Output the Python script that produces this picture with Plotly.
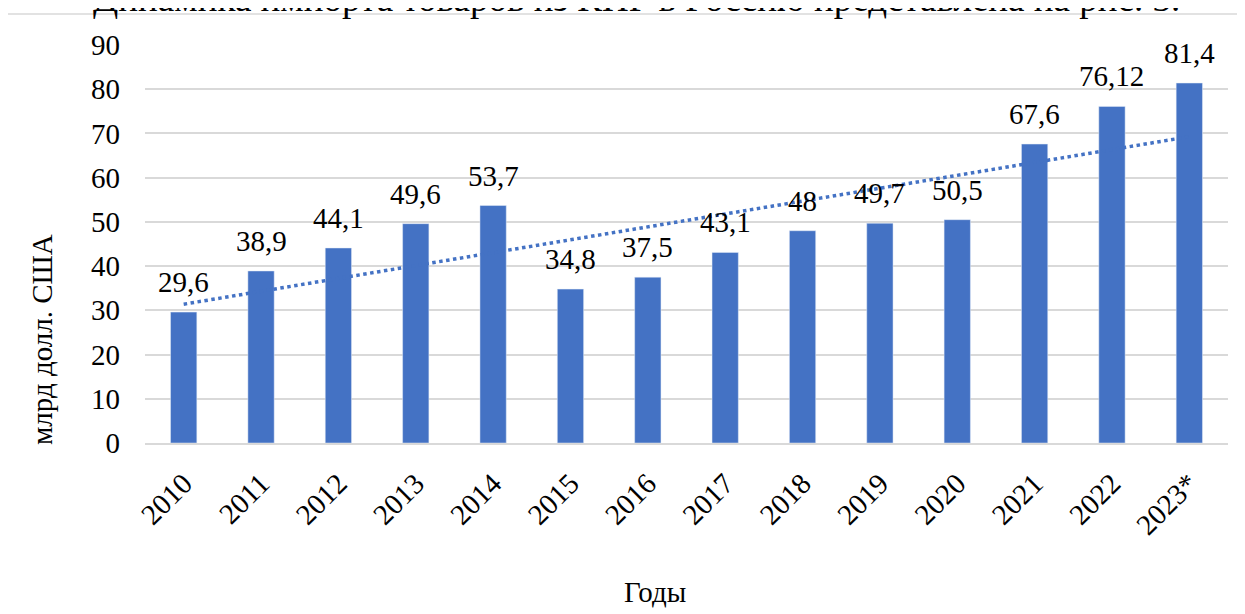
import plotly.graph_objects as go
import numpy as np

# --- Данные ---
years = ["2010", "2011", "2012", "2013", "2014", "2015", "2016",
         "2017", "2018", "2019", "2020", "2021", "2022", "2023*"]
import_values = [29.6, 38.9, 44.1, 49.6, 53.7, 34.8, 37.5,
                 43.1, 48, 49.7, 50.5, 67.6, 76.12, 81.4]
y_ticks = [0, 10, 20, 30, 40, 50, 60, 70, 80, 90]

caption = "Динамика импорта товаров из КНР в Россию представлена на рис. 3."
y_title = "млрд долл. США"
x_title = "Годы"

FONT = "Liberation Serif, Times New Roman, serif"
BLUE = "#4472C4"

# Линейный тренд (как в Excel)
idx = np.arange(len(import_values))
k, b = np.polyfit(idx, import_values, 1)
trend = k * idx + b

labels = [f"{v:g}".replace(".", ",") for v in import_values]

fig = go.Figure()

fig.add_trace(go.Bar(
    x=years,
    y=import_values,
    marker_color=BLUE,
    showlegend=False,
))

fig.add_trace(go.Scatter(
    x=years,
    y=trend,
    mode="lines",
    line=dict(color=BLUE, width=3.5, dash="dot"),
    showlegend=False,
    hoverinfo="skip",
))

# Подписи данных над столбцами (x — порядковый номер категории)
for i, (val, lab) in enumerate(zip(import_values, labels)):
    fig.add_annotation(
        x=i, y=val, text=lab, showarrow=False,
        xanchor="center", yanchor="bottom", yshift=12,
        font=dict(family=FONT, size=29, color="black"),
    )

# Подпись над диаграммой (обрезана сверху, как в оригинале)
fig.add_annotation(
    text=caption, xref="paper", yref="paper",
    x=0.454, y=1.06, xanchor="center", yanchor="bottom",
    showarrow=False, font=dict(family=FONT, size=37, color="black"),
)

fig.add_annotation(
    text=y_title, xref="paper", yref="paper",
    x=-0.095, y=0.259, textangle=-90,
    xanchor="center", yanchor="middle",
    showarrow=False, font=dict(family=FONT, size=29, color="black"),
)

fig.add_annotation(
    text=x_title, xref="paper", yref="paper",
    x=0.471, y=-0.374, xanchor="center", yanchor="middle",
    showarrow=False, font=dict(family=FONT, size=29, color="black"),
)

# Рамка области диаграммы
fig.add_shape(
    type="rect", xref="paper", yref="paper",
    x0=-0.1274, x1=1.012, y0=-0.46, y1=1.078,
    line=dict(color="#d9d9d9", width=1.5), layer="below",
)

fig.update_layout(
    width=1245,
    height=614,
    margin=dict(l=137, r=25, t=37, b=179),
    paper_bgcolor="white",
    plot_bgcolor="white",
    bargap=0.66,
    font=dict(family=FONT, size=29, color="black"),
    xaxis=dict(
        type="category",
        categoryorder="array",
        categoryarray=years,
        range=[-0.5, len(years) - 0.5],
        automargin=False,
        tickangle=-45,
        tickfont=dict(family=FONT, size=29, color="black"),
        showgrid=False,
        showline=True,
        linecolor="#d9d9d9",
        linewidth=2,
        ticks="",
        ticklabelstandoff=10,
    ),
    yaxis=dict(
        range=[0, 90],
        automargin=False,
        tickvals=y_ticks,
        tickfont=dict(family=FONT, size=29, color="black"),
        showgrid=True,
        gridcolor="#d9d9d9",
        gridwidth=1.5,
        zeroline=False,
        showline=False,
        ticks="",
        ticklabelstandoff=24,
    ),
)

fig.write_html("out.html")
